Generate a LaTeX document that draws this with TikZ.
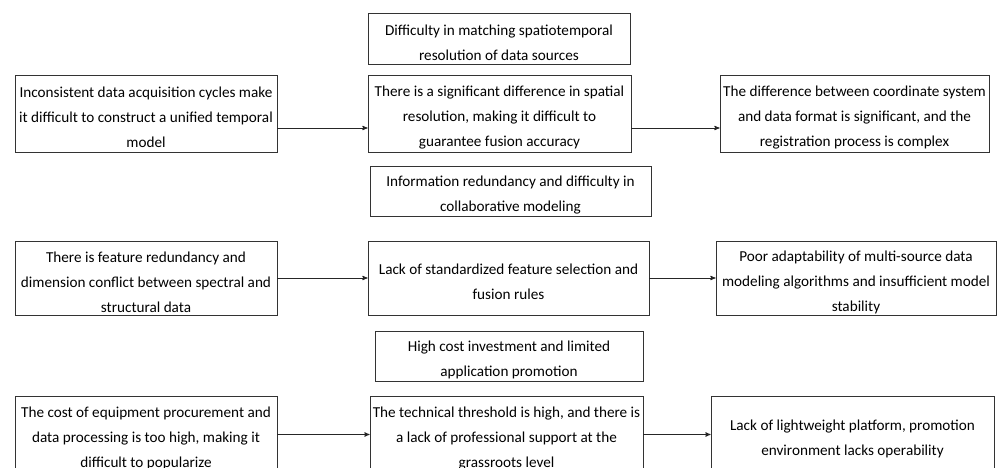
\documentclass[tikz,border=0pt]{standalone}
\usepackage{fontspec}
\setmainfont{Carlito}
\usepackage{tikz}
\usetikzlibrary{arrows}
\newcommand\topgap{\rule{0pt}{19pt}}

\begin{document}
\begin{tikzpicture}[>=stealth',x=1pt,y=-1pt,
        box/.style={draw=black!80,line width=0.9pt,align=center,inner sep=0pt,
          font=\fontsize{15.2}{25}\selectfont},
        head/.style={box,minimum height=51pt},
        cell/.style={box,minimum height=77pt}]

  \useasboundingbox (0,0) rectangle (997,468);
  \clip (0,0) rectangle (997,468);

  % row 1
  \node[head,minimum width=262pt] (t1) at (499,38.5) {\topgap Difficulty in matching spatiotemporal\\resolution of data sources};
  \node[cell,minimum width=262pt] (a1) at (146,113.5) {\topgap Inconsistent data acquisition cycles make\\it difficult to construct a unified temporal\\model};
  \node[cell,minimum width=263pt] (b1) at (499.5,113.5) {\topgap There is a significant difference in spatial\\resolution, making it difficult to\\guarantee fusion accuracy};
  \node[cell,minimum width=269pt] (c1) at (854.5,113.5) {\topgap The difference between coordinate system\\and data format is significant, and the\\registration process is complex};

  % row 2
  \node[head,minimum width=281pt,minimum height=50pt] (t2) at (510.5,191) {\topgap Information redundancy and difficulty in\\collaborative modeling};
  \node[cell,minimum width=262pt,minimum height=74pt] (a2) at (146,278) {\topgap There is feature redundancy and\\dimension conflict between spectral and\\structural data};
  \node[cell,minimum width=281pt,minimum height=74pt] (b2) at (508.5,278) {\topgap Lack of standardized feature selection and\\fusion rules};
  \node[cell,minimum width=280pt,minimum height=74pt] (c2) at (856,278) {\topgap Poor adaptability of multi-source data\\modeling algorithms and insufficient model\\stability};

  % row 3
  \node[head,minimum width=268pt,minimum height=50pt] (t3) at (509,356) {\topgap High cost investment and limited\\application promotion};
  \node[cell,minimum width=262pt] (a3) at (146,434.5) {\topgap The cost of equipment procurement and\\data processing is too high, making it\\difficult to popularize};
  \node[cell,minimum width=273pt] (b3) at (506.5,434.5) {\topgap The technical threshold is high, and there is\\a lack of professional support at the\\grassroots level};
  \node[cell,minimum width=283pt] (c3) at (852.5,434.5) {\topgap Lack of lightweight platform, promotion\\environment lacks operability};

  \path[->,black!85,line width=0.9pt]
        ([yshift=-14.5pt]a1.east) edge ([yshift=-14.5pt]b1.west)
        ([yshift=-14.5pt]b1.east) edge ([yshift=-14.5pt]c1.west)
        (a2) edge (b2)
        (b2) edge (c2)
        (a3) edge (b3)
        (b3) edge (c3);

\end{tikzpicture}
\end{document}
